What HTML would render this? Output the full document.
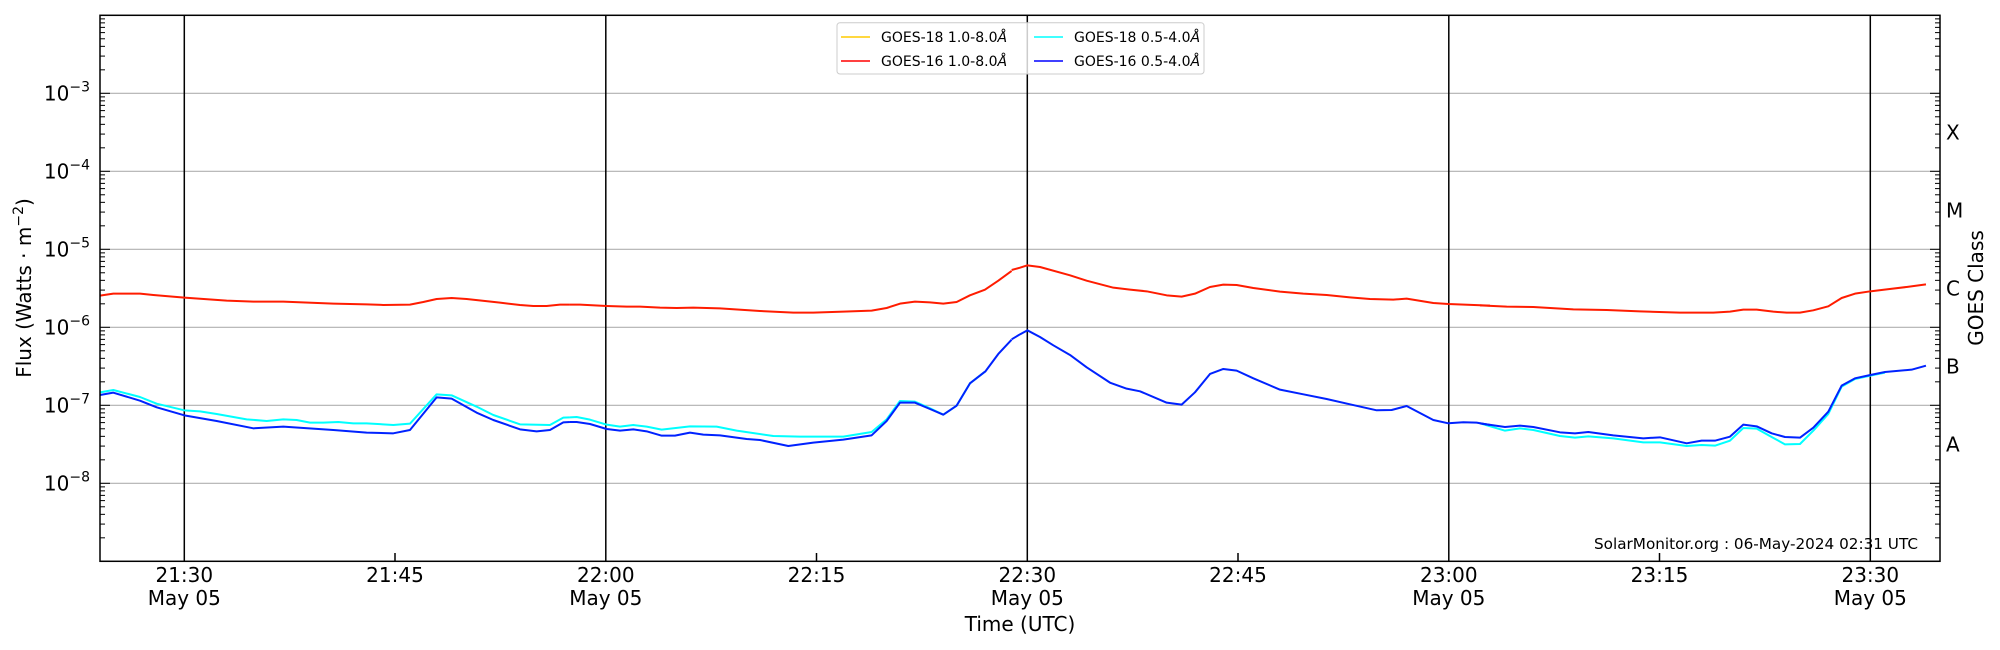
<!DOCTYPE html>
<html><head><meta charset="utf-8"><style>
html,body{margin:0;padding:0;background:#fff;}
svg{display:block;font-family:"DejaVu Sans","Liberation Sans",sans-serif;}
</style></head><body>
<svg id="s" width="2000" height="650" viewBox="0 0 2000 650" xmlns="http://www.w3.org/2000/svg">
<rect width="2000" height="650" fill="#fff"/>
<g stroke="#b0b0b0" stroke-width="1.2">
<line x1="100" x2="1940" y1="93.3" y2="93.3"/>
<line x1="100" x2="1940" y1="171.3" y2="171.3"/>
<line x1="100" x2="1940" y1="249.3" y2="249.3"/>
<line x1="100" x2="1940" y1="327.3" y2="327.3"/>
<line x1="100" x2="1940" y1="405.3" y2="405.3"/>
<line x1="100" x2="1940" y1="483.3" y2="483.3"/>
</g>
<g stroke="#000" stroke-width="1.5">
<line x1="184.3" x2="184.3" y1="15.3" y2="561.3"/>
<line x1="605.8" x2="605.8" y1="15.3" y2="561.3"/>
<line x1="1027.3" x2="1027.3" y1="15.3" y2="561.3"/>
<line x1="1448.8" x2="1448.8" y1="15.3" y2="561.3"/>
<line x1="1870.3" x2="1870.3" y1="15.3" y2="561.3"/>
<line x1="395" x2="395" y1="553" y2="561.3"/>
<line x1="816.5" x2="816.5" y1="553" y2="561.3"/>
<line x1="1238" x2="1238" y1="553" y2="561.3"/>
<line x1="1659.5" x2="1659.5" y1="553" y2="561.3"/>
</g>
<g id="ticks" stroke="#000" stroke-width="1"></g>
<g fill="none" stroke-width="2" stroke-linejoin="round">
<g stroke="#00ffff">
<polyline vector-effect="non-scaling-stroke" transform="translate(100,370) scale(0.3333)" points="0,67 40,60 120,81 170,101 253,121 300,124 350,132 440,148 500,153 550,148 590,150 630,158 670,158 715,156 760,160 800,160 880,165 930,161 1010,73 1055,76 1130,110 1180,135 1260,163 1350,165 1390,143 1410,142"/>
<polyline vector-effect="non-scaling-stroke" transform="translate(560,370) scale(0.3333)" points="30,142 50,141 90,149 140,164 180,170 220,165 260,170 305,179 390,169 470,170 530,182 640,198 720,200 850,200 935,186 980,148 1020,93 1065,95 1110,115 1150,134 1190,107 1230,40 1275,5"/>
<polyline vector-effect="non-scaling-stroke" transform="translate(1480,370) scale(0.3333)" points="0,160 75,182 120,175 160,180 240,198 285,203 325,199 400,205 490,217 540,217 620,228 665,225 705,227 750,212 790,174 830,176 875,201 915,223 960,222 1000,182 1045,132 1085,50 1125,27 1171,17 1215,8"/>
</g>
<g stroke="#0022ff">
<polyline vector-effect="non-scaling-stroke" transform="translate(100,370) scale(0.3333)" points="0,75 40,68 120,92 170,112 253,136 350,153 460,175 550,170 700,180 800,188 880,190 930,180 1010,82 1055,86 1130,128 1180,150 1260,178 1310,184 1350,180 1390,157 1410,156"/>
<polyline vector-effect="non-scaling-stroke" transform="translate(560,370) scale(0.3333)" points="30,156 50,156 90,162 140,177 180,182 220,178 260,184 305,197 345,197 390,188 430,194 480,196 560,207 600,210 685,228 760,218 850,209 935,196 980,153 1020,98 1065,98 1110,117 1150,134 1190,107 1230,40 1275,5"/>
<polyline vector-effect="non-scaling-stroke" transform="translate(560,190) scale(0.3333)" points="1275,546 1315,492 1355,449"/>
<polyline vector-effect="non-scaling-stroke" transform="translate(1020,190) scale(0.3333)" points="-25,448 0,433 22,421 60,441 100,466 150,495 200,532 270,578 320,596 360,604 440,638 485,644 525,607 570,552 610,537 650,542 700,565 780,599 850,613 920,627 990,643 1070,661 1115,660 1160,648 1240,690 1285,700 1330,697 1370,698 1410,705"/>
<polyline vector-effect="non-scaling-stroke" transform="translate(1480,370) scale(0.3333)" points="0,160 75,171 120,167 160,171 240,187 285,190 325,186 400,196 490,205 540,202 620,220 665,212 705,212 750,200 790,164 830,169 875,190 915,201 960,203 1000,173 1045,125 1085,47 1125,25 1171,15 1215,6 1295,-1 1338,-13"/>
</g>
<g stroke="#ff1c00">
<polyline vector-effect="non-scaling-stroke" transform="translate(100,190) scale(0.3333)" points="0,317 40,311 120,311 160,315 253,323 380,332 460,335 550,335 700,341 800,343 850,345 930,344 970,336 1010,327 1055,324 1100,327 1200,338 1260,345 1300,348 1340,348 1380,344 1410,344"/>
<polyline vector-effect="non-scaling-stroke" transform="translate(560,190) scale(0.3333)" points="30,344 60,344 140,348 200,350 240,350 300,353 350,354 400,353 480,355 600,363 700,368 760,368 850,365 935,362 980,354 1020,341 1065,335 1110,337 1150,341 1190,336 1230,316 1275,299 1315,272 1355,243"/>
<polyline vector-effect="non-scaling-stroke" transform="translate(1020,190) scale(0.3333)" points="-25,240 0,233 22,226 60,231 150,256 200,272 280,293 330,299 380,304 440,316 485,320 525,311 570,291 610,284 650,285 700,294 780,305 850,311 920,315 990,322 1050,327 1120,329 1160,326 1240,339 1285,342 1410,347"/>
<polyline vector-effect="non-scaling-stroke" transform="translate(1480,190) scale(0.3333)" points="0,346 80,350 160,351 280,358 380,360 480,364 600,368 700,368 750,365 790,359 830,359 880,365 920,368 960,368 1000,361 1045,349 1085,324 1125,311 1171,304 1220,298 1280,291 1338,283"/>
</g>
</g>
<rect x="100" y="15.3" width="1840" height="546" fill="none" stroke="#000" stroke-width="1.5"/>
<rect x="837" y="22.7" width="367" height="51.3" rx="3" fill="#fff" fill-opacity="0.8" stroke="#cccccc" stroke-width="1"/>
<g stroke-width="1.5">
<line x1="841" x2="870" y1="37" y2="37" stroke="#ffcc00"/>
<line x1="841" x2="870" y1="61" y2="61" stroke="#ff0000"/>
<line x1="1034" x2="1063" y1="37" y2="37" stroke="#00ffff"/>
<line x1="1034" x2="1063" y1="61" y2="61" stroke="#0000ff"/>
</g>
<g font-size="14" fill="#000">
<text x="881" y="42">GOES-18 1.0-8.0<tspan font-style="italic">Å</tspan></text>
<text x="881" y="66">GOES-16 1.0-8.0<tspan font-style="italic">Å</tspan></text>
<text x="1074" y="42">GOES-18 0.5-4.0<tspan font-style="italic">Å</tspan></text>
<text x="1074" y="66">GOES-16 0.5-4.0<tspan font-style="italic">Å</tspan></text>
</g>
<g font-size="20" fill="#000" text-anchor="end">
<text x="90" y="100.5">10<tspan font-size="14" dy="-9">−3</tspan></text>
<text x="90" y="178.5">10<tspan font-size="14" dy="-9">−4</tspan></text>
<text x="90" y="256.5">10<tspan font-size="14" dy="-9">−5</tspan></text>
<text x="90" y="334.5">10<tspan font-size="14" dy="-9">−6</tspan></text>
<text x="90" y="412.5">10<tspan font-size="14" dy="-9">−7</tspan></text>
<text x="90" y="490.5">10<tspan font-size="14" dy="-9">−8</tspan></text>
</g>
<text transform="translate(31,288) rotate(-90)" font-size="20" text-anchor="middle">Flux (Watts · m<tspan font-size="14" dy="-8">−2</tspan><tspan dy="8">)</tspan></text>
<g font-size="20" fill="#000">
<text x="1946" y="139.5">X</text>
<text x="1946" y="217.5">M</text>
<text x="1946" y="295.5">C</text>
<text x="1946" y="373.5">B</text>
<text x="1946" y="451.5">A</text>
</g>
<text transform="translate(1983,288) rotate(-90)" font-size="20" text-anchor="middle">GOES Class</text>
<g font-size="20" fill="#000" text-anchor="middle">
<text x="184.3" y="582">21:30</text><text x="184.3" y="605">May 05</text>
<text x="395" y="582">21:45</text>
<text x="605.8" y="582">22:00</text><text x="605.8" y="605">May 05</text>
<text x="816.5" y="582">22:15</text>
<text x="1027.3" y="582">22:30</text><text x="1027.3" y="605">May 05</text>
<text x="1238" y="582">22:45</text>
<text x="1448.8" y="582">23:00</text><text x="1448.8" y="605">May 05</text>
<text x="1659.5" y="582">23:15</text>
<text x="1870.3" y="582">23:30</text><text x="1870.3" y="605">May 05</text>
<text x="1020" y="631">Time (UTC)</text>
</g>
<text x="1594" y="549" font-size="15" textLength="324" lengthAdjust="spacingAndGlyphs">SolarMonitor.org : 06-May-2024 02:31 UTC</text>
</svg>
<script>
(function(){
var g=document.getElementById('ticks'),h='';
for(var e=-9;e<-2;e++){for(var k=1;k<10;k++){
var y=561.3-(e+9+Math.log10(k))*78; if(y<16)continue;
var L=(k==1)?10:5;
h+='<line x1="100" x2="'+(100+L)+'" y1="'+y+'" y2="'+y+'"/>';
h+='<line x1="'+(1940-L)+'" x2="1940" y1="'+y+'" y2="'+y+'"/>';
}}
g.innerHTML=h;
})();
</script>
</body></html>
